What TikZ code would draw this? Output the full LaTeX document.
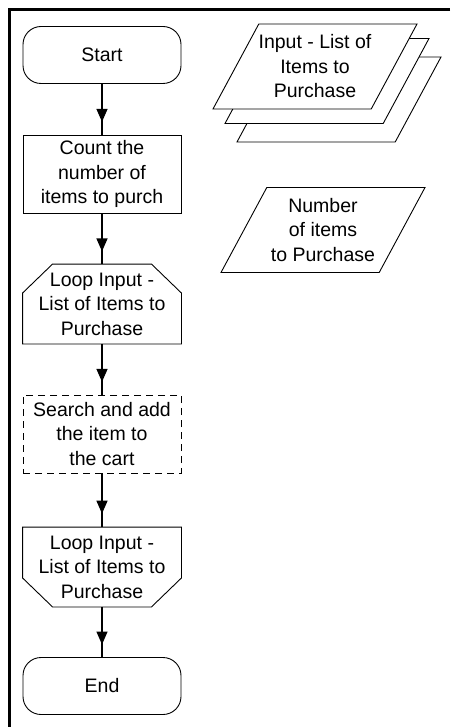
\documentclass[tikz,border=0pt]{standalone}
\usepackage{fontspec}
\setmainfont{Liberation Sans}
\usepackage{tikz}
\usetikzlibrary{shapes.geometric, arrows.meta, decorations.markings}
\tikzstyle{startstop} = [rectangle, rounded corners=18pt, 
minimum width=158pt, 
minimum height=57pt,
text centered, 
line width=0.9pt,
draw=black]
\tikzstyle{process} = [rectangle, 
minimum width=158pt, 
minimum height=78pt, 
align=center, 
line width=0.9pt,
draw=black]
\tikzstyle{subprocess} = [process, 
dash pattern=on 7pt off 5pt]
\tikzstyle{loopbox} = [process, 
minimum height=79pt, 
draw=none]
\tikzstyle{outline} = [line width=0.9pt]
\tikzstyle{io} = [trapezium, 
trapezium stretches body=true,
trapezium left angle=60, 
trapezium right angle=120, 
minimum width=204pt, 
minimum height=85pt, 
inner xsep=-12pt,
inner ysep=8pt,
align=center, 
line width=0.9pt,
draw=black, fill=white]
\tikzstyle{arrow} = [line width=1.4pt,
postaction={decorate},
decoration={markings, mark=at position 0.75 with {\arrow{Triangle[width=11pt,length=13pt]}}}]

\begin{document}
\begin{tikzpicture}[node distance=130pt, x=1pt, y=1pt, font=\fontsize{19.5}{24.5}\selectfont]

\useasboundingbox (0,0) rectangle (450,-727);
\draw [line width=3pt] (450,-9.5) -- (9.5,-9.5) -- (9.5,-727);

\node (start) [startstop] at (102,-55) {Start};
\node (count) [process, below of=start, yshift=11pt] {Count the\\number of\\items to purch};
\node (loopin) [loopbox, below of=count] {Loop Input -\\List of Items to\\Purchase};
\node (search) [subprocess, below of=loopin] {Search and add\\the item to\\the cart};
\node (loopout) [loopbox, below of=search, yshift=-3pt] {Loop Input -\\List of Items to\\Purchase};
\node (stop) [startstop, below of=loopout, yshift=11pt] {End};

% loop limit outlines
\draw [outline] (loopin.south west) -- ([yshift=-29pt]loopin.north west) -- ([xshift=30pt]loopin.north west) -- ([xshift=-30pt]loopin.north east) -- ([yshift=-29pt]loopin.north east) -- (loopin.south east) -- cycle;
\draw [outline] (loopout.north west) -- ([yshift=29pt]loopout.south west) -- ([xshift=30pt]loopout.south west) -- ([xshift=-30pt]loopout.south east) -- ([yshift=29pt]loopout.south east) -- (loopout.north east) -- cycle;

% stacked list of items (back sheets get the same box as the front one)
\node (itemlist3) [io] at (339,-99.5) {\phantom{Input - List of}\\\phantom{Items to}\\\phantom{Purchase}};
\node (itemlist2) [io] at (327,-81) {\phantom{Input - List of}\\\phantom{Items to}\\\phantom{Purchase}};
\node (itemlist) [io] at (315,-66.5) {Input - List of\\Items to\\Purchase};
\node (numitems) [io] at (323,-230) {Number\\of items\\to Purchase};

\draw [arrow] (start) -- (count);
\draw [arrow] (count) -- (loopin);
\draw [arrow] (loopin) -- (search);
\draw [arrow] (search) -- (loopout);
\draw [arrow] (loopout) -- (stop);

\end{tikzpicture}
\end{document}
